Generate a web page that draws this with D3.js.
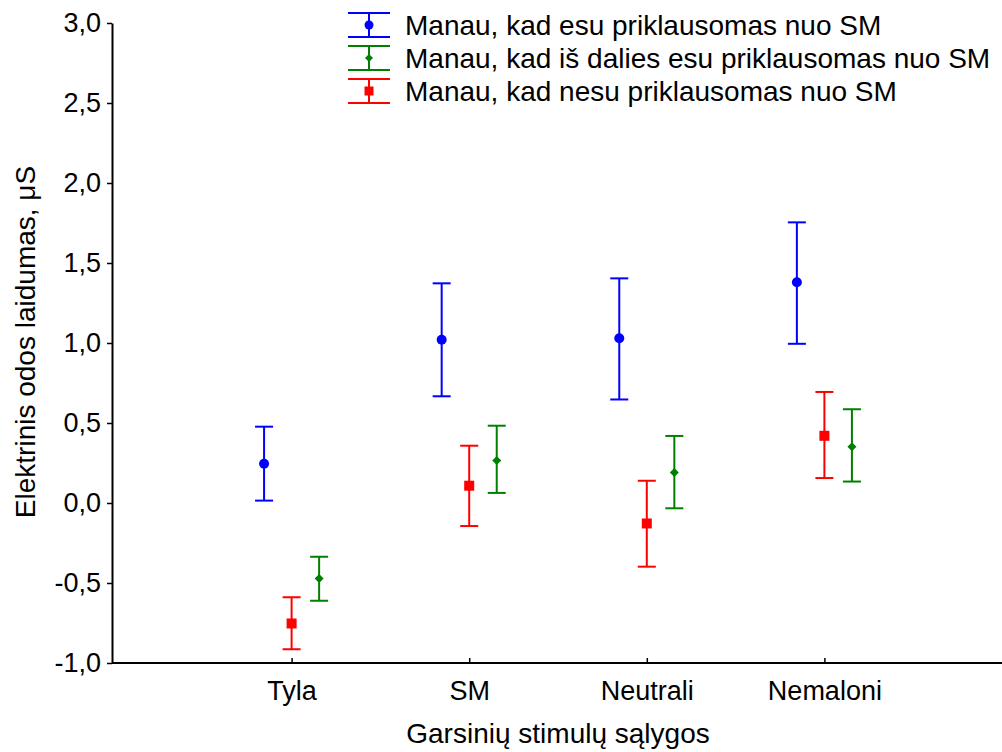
<!DOCTYPE html>
<html>
<head>
<meta charset="utf-8">
<script src="https://cdn.jsdelivr.net/npm/d3@7"></script>
<style>
  html, body { margin: 0; padding: 0; background: #fff; }
  svg text { font-family: "Liberation Sans", Arial, sans-serif; fill: #000; }
</style>
</head>
<body>
<svg id="chart" width="1002" height="752"></svg>
<script>
// Conditions on the x axis
const categories = ["Tyla", "SM", "Neutrali", "Nemaloni"];

// Series names (legend order)
const seriesNames = [
  "Manau, kad esu priklausomas nuo SM",
  "Manau, kad iš dalies esu priklausomas nuo SM",
  "Manau, kad nesu priklausomas nuo SM"
];

// Means and confidence bounds per series (µS), in category order
const meanEsu    = [0.245, 1.02, 1.03, 1.38];
const lowEsu     = [0.015, 0.667, 0.647, 0.995];
const highEsu    = [0.477, 1.373, 1.404, 1.754];

const meanDalies = [-0.472, 0.265, 0.19, 0.352];
const lowDalies  = [-0.611, 0.063, -0.033, 0.134];
const highDalies = [-0.336, 0.483, 0.419, 0.586];

const meanNesu   = [-0.753, 0.108, -0.128, 0.42];
const lowNesu    = [-0.914, -0.144, -0.398, 0.156];
const highNesu   = [-0.589, 0.358, 0.139, 0.694];

const yTicks = [-1.0, -0.5, 0.0, 0.5, 1.0, 1.5, 2.0, 2.5, 3.0];

const series = [
  { name: seriesNames[0], mean: meanEsu, low: lowEsu, high: highEsu, color: "#0000ff", shape: "circle", offset: -0.155 },
  { name: seriesNames[1], mean: meanDalies, low: lowDalies, high: highDalies, color: "#008000", shape: "diamond", offset: 0.155 },
  { name: seriesNames[2], mean: meanNesu, low: lowNesu, high: highNesu, color: "#ff0000", shape: "square", offset: 0 }
];

const svg = d3.select("#chart");
const plotLeft = 112, plotTop = 23, plotBottom = 663;
const tickFont = "27px";

// Category k sits at position k+1 on a 0..5 scale
const x = d3.scaleLinear().domain([0, 5]).range([114, 1002]);
const y = d3.scaleLinear().domain([-1, 3]).range([plotBottom, plotTop]);

const fmt = d => d3.format(".1f")(d).replace(".", ",").replace("−", "-");

// Y axis
const yAxis = svg.append("g")
  .attr("transform", `translate(${plotLeft},0)`)
  .call(d3.axisLeft(y).tickValues(yTicks).tickFormat(fmt).tickSize(5).tickPadding(6).tickSizeOuter(0));
yAxis.select(".domain").attr("stroke", "#000").attr("stroke-width", 2);
yAxis.selectAll(".tick line").attr("stroke", "#000").attr("stroke-width", 1.5);
yAxis.selectAll("text").style("font-size", tickFont).attr("fill", "#000");

// X axis (ticks pointing into the plot)
const xAxis = svg.append("g")
  .attr("transform", `translate(0,${plotBottom})`)
  .call(d3.axisBottom(x).tickValues([1, 2, 3, 4]).tickFormat(d => categories[d - 1]).tickSize(0).tickPadding(18));
xAxis.select(".domain").remove();
svg.append("line")
  .attr("x1", plotLeft).attr("x2", 1002).attr("y1", plotBottom).attr("y2", plotBottom)
  .attr("stroke", "#000").attr("stroke-width", 2);
xAxis.selectAll(".tick").append("line")
  .attr("y1", 0).attr("y2", -5).attr("stroke", "#000").attr("stroke-width", 1.5);
xAxis.selectAll("text").style("font-size", tickFont).attr("fill", "#000");

// Axis titles
svg.append("text")
  .attr("x", 558).attr("y", 743)
  .attr("text-anchor", "middle")
  .style("font-size", "28px")
  .text("Garsinių stimulų sąlygos");
svg.append("text")
  .attr("transform", "translate(35,342) rotate(-90)")
  .attr("text-anchor", "middle")
  .style("font-size", "28px")
  .text("Elektrinis odos laidumas, μS");

function drawMarker(g, shape, color, cx, cy, size) {
  const r = size;
  if (shape === "circle") {
    g.append("circle").attr("cx", cx).attr("cy", cy).attr("r", r).attr("fill", color);
  } else if (shape === "square") {
    g.append("rect").attr("x", cx - r).attr("y", cy - r).attr("width", 2 * r).attr("height", 2 * r).attr("fill", color);
  } else {
    g.append("path")
      .attr("d", `M${cx},${cy - r}L${cx + r},${cy}L${cx},${cy + r}L${cx - r},${cy}Z`)
      .attr("fill", color);
  }
}

// Error bars with markers
const capHalf = 9;
series.forEach(s => {
  const g = svg.append("g");
  categories.forEach((c, i) => {
    const cx = x(i + 1 + s.offset);
    g.append("line").attr("x1", cx).attr("x2", cx)
      .attr("y1", y(s.low[i])).attr("y2", y(s.high[i]))
      .attr("stroke", s.color).attr("stroke-width", 2);
    [s.low[i], s.high[i]].forEach(v => {
      g.append("line").attr("x1", cx - capHalf).attr("x2", cx + capHalf)
        .attr("y1", y(v)).attr("y2", y(v))
        .attr("stroke", s.color).attr("stroke-width", 2);
    });
    drawMarker(g, s.shape, s.color, cx, y(s.mean[i]), s.shape === "diamond" ? 4.5 : 5);
  });
});

// Legend
series.forEach((s, k) => {
  const cy = 25 + k * 33;
  const g = svg.append("g");
  const lx = 369, half = 21;
  g.append("line").attr("x1", lx).attr("x2", lx).attr("y1", cy - 12).attr("y2", cy + 12)
    .attr("stroke", s.color).attr("stroke-width", 2);
  [cy - 12, cy + 12].forEach(yy => {
    g.append("line").attr("x1", lx - half).attr("x2", lx + half).attr("y1", yy).attr("y2", yy)
      .attr("stroke", s.color).attr("stroke-width", 2);
  });
  drawMarker(g, s.shape, s.color, lx, cy, s.shape === "diamond" ? 4 : 4.5);
  g.append("text").attr("x", 405).attr("y", cy + 10)
    .style("font-size", "28px")
    .text(s.name);
});
</script>
</body>
</html>
